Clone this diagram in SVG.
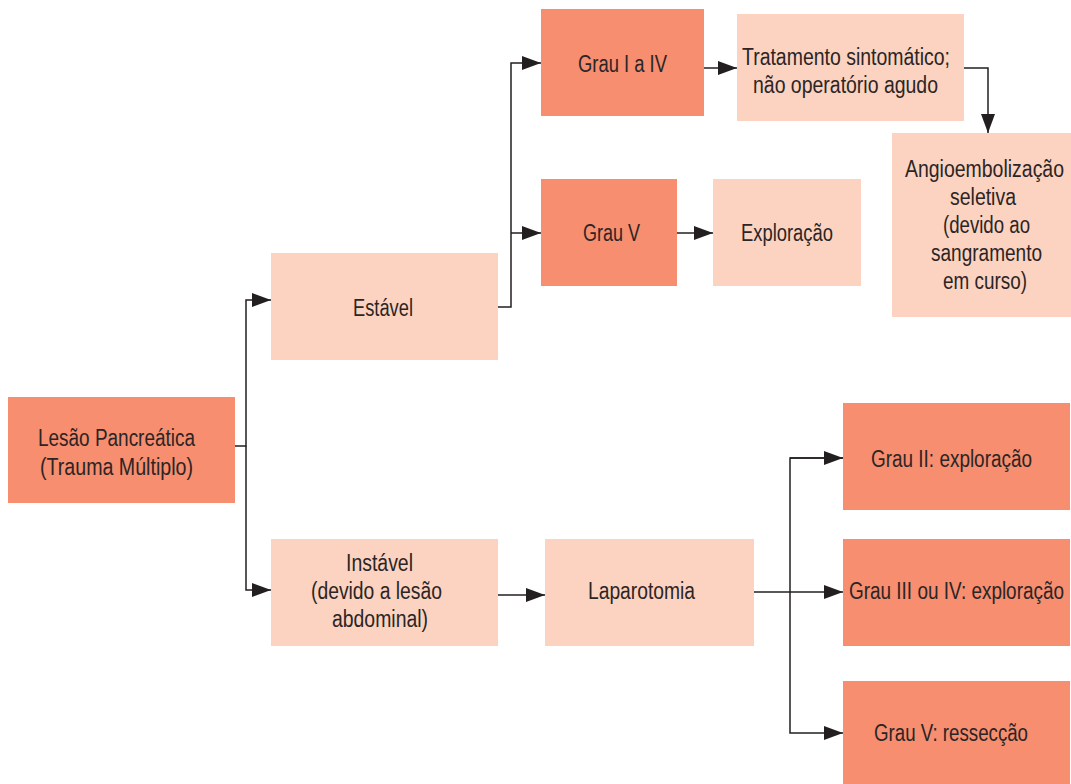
<svg xmlns="http://www.w3.org/2000/svg" width="1071" height="784" viewBox="0 0 1071 784">
<style>
.dark{fill:#F68E6F}
.light{fill:#FCD3C0}
text{font-family:"Liberation Sans","Arimo",Arial,sans-serif;font-size:23px;fill:#2B2526;text-anchor:middle}
.c{fill:none;stroke:#231F20;stroke-width:1.5}
</style>
<defs>
<marker id="ah" markerUnits="userSpaceOnUse" markerWidth="20" markerHeight="14" refX="19" refY="7" orient="auto">
<path d="M0,0 L19,7 L0,14 Z" fill="#231F20"/>
</marker>
</defs>
<rect width="1071" height="784" fill="#fff"/>
<g id="connectors">
<path class="c" d="M235,446 H246 V300 H271" marker-end="url(#ah)"/>
<path class="c" d="M246,446 V590 H271" marker-end="url(#ah)"/>
<path class="c" d="M498,307 H511 V63 H541" marker-end="url(#ah)"/>
<path class="c" d="M511,233 H541" marker-end="url(#ah)"/>
<path class="c" d="M704,68 H737" marker-end="url(#ah)"/>
<path class="c" d="M964,68 H988 V133" marker-end="url(#ah)"/>
<path class="c" d="M677,233 H713" marker-end="url(#ah)"/>
<path class="c" d="M498,595 H545" marker-end="url(#ah)"/>
<path class="c" d="M754,592 H843" marker-end="url(#ah)"/>
<path class="c" d="M843,458 H790 V733 H843" marker-end="url(#ah)"/>
<path class="c" d="M790,458 H843" marker-end="url(#ah)"/>
</g>
<g id="lesao"><rect class="dark" x="8" y="397" width="227" height="106"/><text x="116.5" y="446" textLength="157" lengthAdjust="spacingAndGlyphs">Lesão Pancreática</text><text x="116.5" y="475" textLength="153" lengthAdjust="spacingAndGlyphs">(Trauma Múltiplo)</text></g>
<g id="estavel"><rect class="light" x="271" y="253" width="227" height="107"/><text x="383" y="316" textLength="60" lengthAdjust="spacingAndGlyphs">Estável</text></g>
<g id="instavel"><rect class="light" x="271" y="539" width="227" height="107"/><text x="379.5" y="571" textLength="67" lengthAdjust="spacingAndGlyphs">Instável</text><text x="376.5" y="599" textLength="131" lengthAdjust="spacingAndGlyphs">(devido a lesão</text><text x="380" y="627" textLength="96" lengthAdjust="spacingAndGlyphs">abdominal)</text></g>
<g id="laparotomia"><rect class="light" x="545" y="539" width="209" height="107"/><text x="641.5" y="599" textLength="107" lengthAdjust="spacingAndGlyphs">Laparotomia</text></g>
<g id="grau1a4"><rect class="dark" x="541" y="9" width="163" height="107"/><text x="622.5" y="72" textLength="89" lengthAdjust="spacingAndGlyphs">Grau I a IV</text></g>
<g id="tratamento"><rect class="light" x="737" y="14" width="227" height="107"/><text x="846" y="65" textLength="208" lengthAdjust="spacingAndGlyphs">Tratamento sintomático;</text><text x="845.5" y="93" textLength="185" lengthAdjust="spacingAndGlyphs">não operatório agudo</text></g>
<g id="angio"><rect class="light" x="892" y="133" width="179" height="184"/><text x="984.5" y="177" textLength="159" lengthAdjust="spacingAndGlyphs">Angioembolização</text><text x="983" y="205" textLength="66" lengthAdjust="spacingAndGlyphs">seletiva</text><text x="986.5" y="233" textLength="87" lengthAdjust="spacingAndGlyphs">(devido ao</text><text x="986.5" y="261" textLength="111" lengthAdjust="spacingAndGlyphs">sangramento</text><text x="985" y="289" textLength="84" lengthAdjust="spacingAndGlyphs">em curso)</text></g>
<g id="grau5"><rect class="dark" x="541" y="179" width="136" height="107"/><text x="611.5" y="241" textLength="57" lengthAdjust="spacingAndGlyphs">Grau V</text></g>
<g id="exploracao"><rect class="light" x="713" y="179" width="148" height="107"/><text x="787" y="241" textLength="92" lengthAdjust="spacingAndGlyphs">Exploração</text></g>
<g id="grau2"><rect class="dark" x="843" y="403" width="227" height="107"/><text x="951.5" y="467" textLength="161" lengthAdjust="spacingAndGlyphs">Grau II: exploração</text></g>
<g id="grau3"><rect class="dark" x="843" y="539" width="227" height="107"/><text x="956.5" y="599" textLength="215" lengthAdjust="spacingAndGlyphs">Grau III ou IV: exploração</text></g>
<g id="grau5r"><rect class="dark" x="843" y="681" width="227" height="103"/><text x="951" y="741" textLength="154" lengthAdjust="spacingAndGlyphs">Grau V: ressecção</text></g>
</svg>
